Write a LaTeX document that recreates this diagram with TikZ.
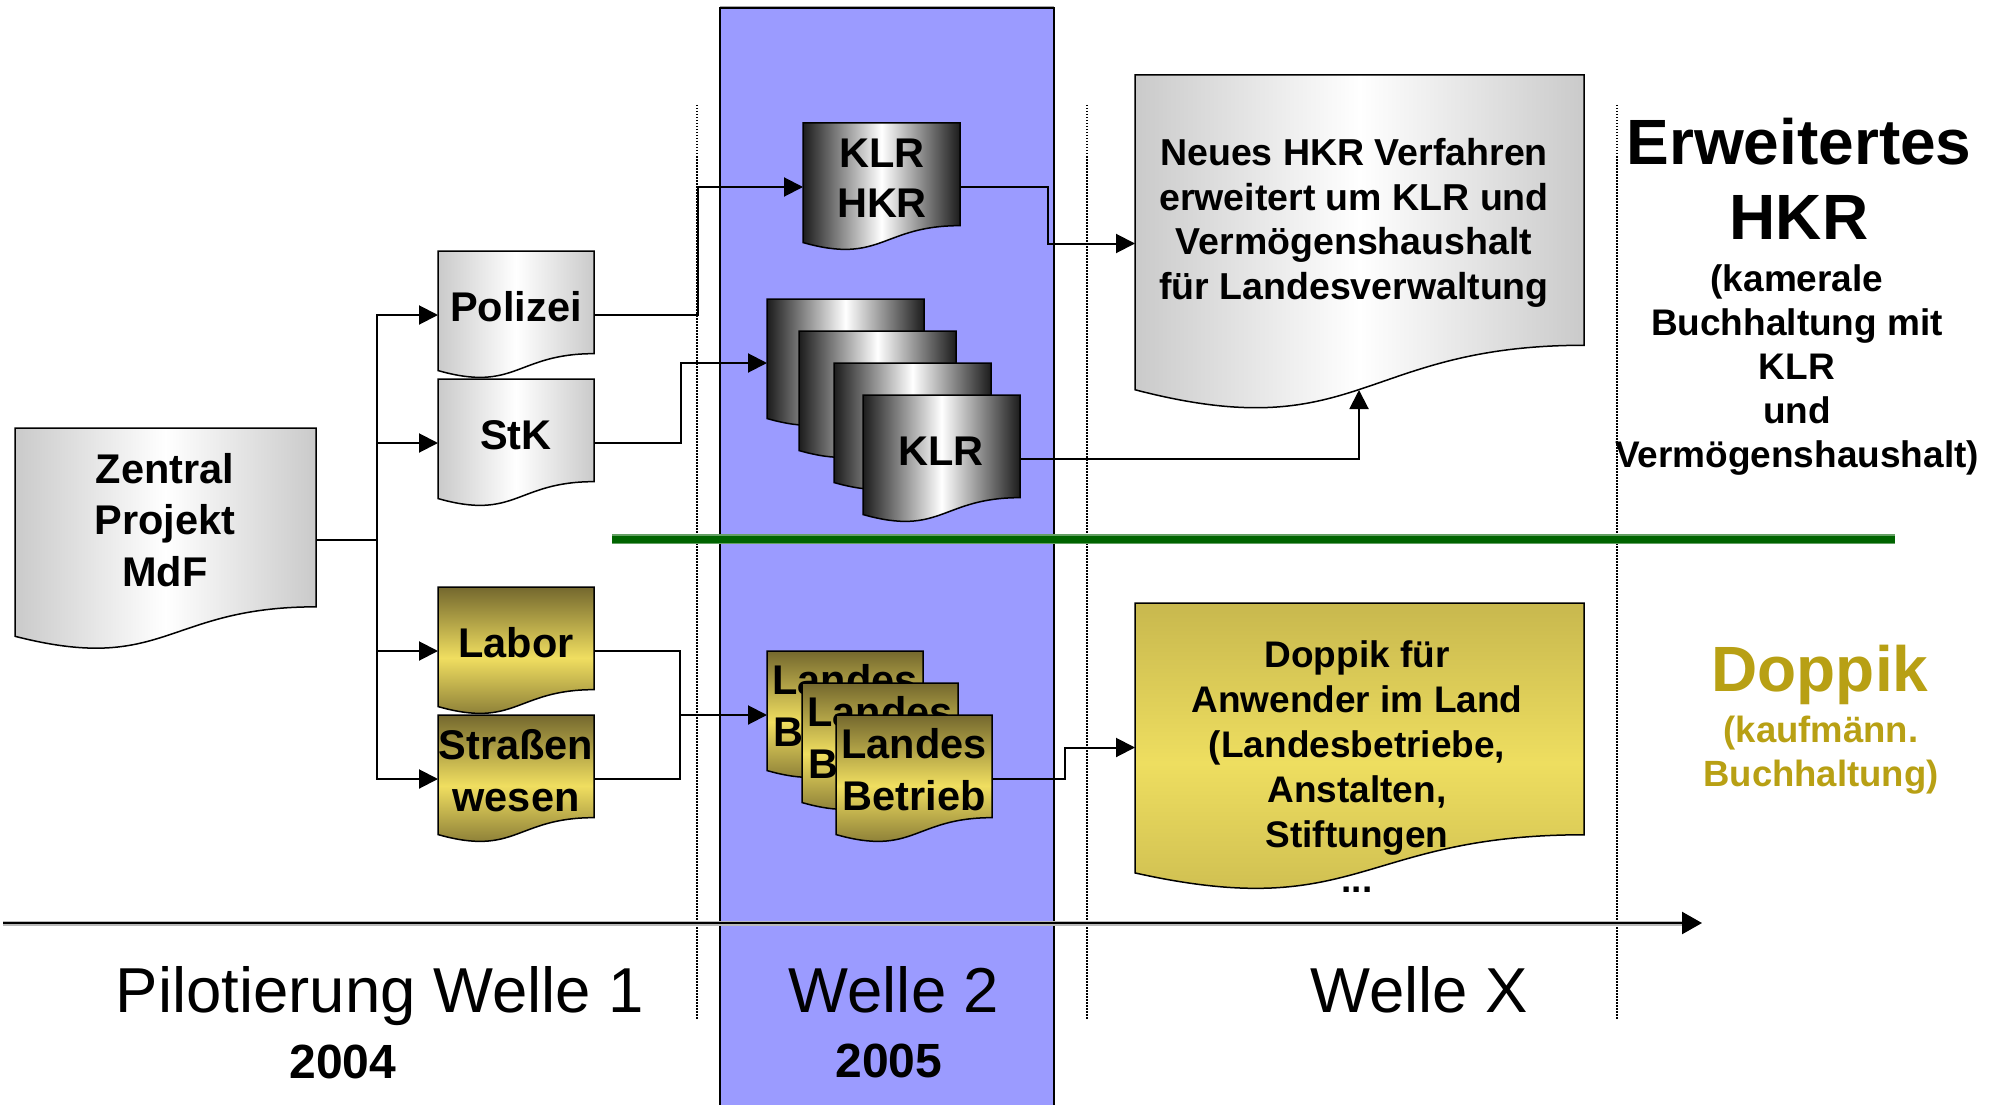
\documentclass[tikz,border=0pt]{standalone}
\usepackage{fontspec}
\setmainfont{Liberation Sans}
\usetikzlibrary{arrows.meta,calc}
\definecolor{bandblue}{RGB}{155,155,255}
\definecolor{dgreen}{RGB}{0,100,0}
\definecolor{lgreen}{RGB}{100,160,100}
\definecolor{goldtxt}{RGB}{184,160,20}
\definecolor{golddark}{RGB}{116,104,46}
\definecolor{goldlight}{RGB}{240,222,96}
\definecolor{goldA}{RGB}{200,184,78}
\definecolor{goldB}{RGB}{238,222,96}
\definecolor{docgray}{RGB}{202,202,202}
\definecolor{docdark}{RGB}{28,28,28}
\tikzset{
  graydoc/.style={left color=docgray, right color=docgray, middle color=white},
  darkdoc/.style={left color=docdark, right color=docdark, middle color=white},
  golddoc/.style={top color=golddark, bottom color=golddark, middle color=goldlight},
  doppdoc/.style={top color=goldA, bottom color=goldA, middle color=goldB},
  conn/.style={line width=2pt, line join=miter},
  arr/.style={conn, -{Triangle[length=19pt,width=19pt]}},
  boxtxt/.style={font=\fontsize{41.5}{51.5}\selectfont\bfseries, align=center, anchor=base, inner sep=0pt},
  midtxt/.style={font=\fontsize{37}{45}\selectfont\bfseries, align=center, anchor=base, inner sep=0pt},
  bigtxt/.style={font=\fontsize{64}{75}\selectfont\bfseries, align=center, anchor=base, inner sep=0pt},
  wavetxt/.style={font=\fontsize{63.5}{76}\selectfont, anchor=base, inner sep=0pt},
  yeartxt/.style={font=\fontsize{48}{56}\selectfont\bfseries, anchor=base, inner sep=0pt},
  vsep/.style={line width=1.2pt, dash pattern=on 1.5pt off 1.5pt},
}
% name, x, y, w, h, fill style
\newcommand\docbox[6]{%
  \path[#6, draw=black, line width=1.5pt] (#2,#3) -- ++(#4,0) -- ++(0,{0.802*#5})
    .. controls ({#2+0.5*#4},{#3+0.802*#5}) and ({#2+0.5*#4},{#3+1.1075*#5}) .. ({#2},{#3+0.934*#5}) -- cycle;
  \node[inner sep=0pt, outer sep=0pt, minimum width=#4, minimum height=#5, anchor=north west] (#1) at (#2,#3) {};
}
\begin{document}
\begin{tikzpicture}[x=1pt,y=-1pt]
\useasboundingbox (0,0) rectangle (1992,1105);
% band
\path[fill=bandblue, draw=black, line width=1.5pt] (720,8) rectangle (1054,1112);
\draw[gray!70, line width=1pt] (720,6.5) -- (1054,6.5);
% separators
\draw[vsep] (697,105) -- (697,1020);
\draw[vsep] (1087,105) -- (1087,1020);
\draw[vsep] (1617,105) -- (1617,1020);
% green divider
\coordinate (g0) at (612,539);
\coordinate (g1) at (1895,539);
\draw[lgreen, line width=9.5pt] (g0) -- (g1);
\draw[dgreen, line width=7pt] (g0) -- (g1);
% timeline
\coordinate (t0) at (3,923);
\coordinate (t1) at (1702,923);
\draw[gray!55, line width=5pt] (t0) -- (1688,923);
\draw[line width=2.5pt, -{Triangle[length=20pt,width=22pt]}] (t0) -- (t1);

% boxes
\docbox{zen}{15}{428}{301}{223}{graydoc}
\node[boxtxt] (zentxt) at (165,586) {Zentral\\Projekt\\MdF};
\docbox{pol}{438}{251}{156}{128}{graydoc}
\node[boxtxt] (poltxt) at (516,321) {Polizei};
\docbox{stk}{438}{379}{156}{128}{graydoc}
\node[boxtxt] (stktxt) at (516,449) {StK};
\docbox{lab}{438}{587}{156}{128}{golddoc}
\node[boxtxt] (labtxt) at (516,657) {Labor};
\docbox{str}{438}{715}{156}{128}{golddoc}
\node[boxtxt] (strtxt) at (516,811) {Straßen\\wesen};

\docbox{kh}{803}{123}{157}{128}{darkdoc}
\node[boxtxt, font=\fontsize{41.5}{50}\selectfont\bfseries] (khtxt) at (882,217) {KLR\\HKR};
\docbox{ka}{767}{299}{157}{128}{darkdoc}
\docbox{kb}{799}{331}{157}{128}{darkdoc}
\docbox{kc}{834}{363}{157}{128}{darkdoc}
\docbox{kd}{863}{395}{157}{128}{darkdoc}
\node[boxtxt] (kdtxt) at (941,465) {KLR};

\docbox{la}{767}{651}{156}{128}{golddoc}
\node[boxtxt, font=\fontsize{41.5}{52}\selectfont\bfseries] (latxt) at (845,746) {Landes\\Betrieb};
\docbox{lb}{802}{683}{156}{128}{golddoc}
\node[boxtxt, font=\fontsize{41.5}{52}\selectfont\bfseries] (lbtxt) at (880,778) {Landes\\Betrieb};
\docbox{lc}{836}{715}{156}{128}{golddoc}
\node[boxtxt, font=\fontsize{41.5}{52}\selectfont\bfseries] (lctxt) at (914,810) {Landes\\Betrieb};

\docbox{neu}{1135}{75}{449}{337}{graydoc}
\node[midtxt, font=\fontsize{37.5}{44.5}\selectfont\bfseries] (neutxt) at (1354,299)
  {Neues HKR Verfahren\\erweitert um KLR und\\Vermögenshaushalt\\für Landesverwaltung};
\docbox{dop}{1135}{603}{449}{289}{doppdoc}
\node[midtxt] (doptxt) at (1357,892)
  {Doppik für\\Anwender im Land\\(Landesbetriebe,\\Anstalten,\\Stiftungen\\...};

% connectors
\coordinate (trunk) at (377,539.5);
\draw[conn] (zen.east) -- (trunk);
\draw[arr] (trunk) |- (pol.west);
\draw[arr] (trunk) |- (stk.west);
\draw[arr] (trunk) |- (lab.west);
\draw[arr] (trunk) |- (str.west);
\draw[arr] (pol.east) -- (698,315) |- (kh.west);
\draw[arr] (stk.east) -- (681,443) |- (ka.west);
\draw[arr] (kh.east) -- (1048,187) |- (neu.west);
\coordinate (neubot) at (1359,390);
\draw[arr] (kd.east) -| (neubot);
\coordinate (join) at (680,715);
\draw[conn] (lab.east) -| (join) |- (str.east);
\draw[arr] (join) -- (la.west);
\draw[arr] (lc.east) -- (1065,779) |- (dop.west);

% right texts
\node[bigtxt] (erw) at (1799,239) {Erweitertes\\HKR};
\node[midtxt, font=\fontsize{37}{44}\selectfont\bfseries] (erwsub) at (1797,467)
  {(kamerale\\Buchhaltung mit\\KLR\\und\\Vermögenshaushalt)};
\node[bigtxt, text=goldtxt] (dopr) at (1820,691) {Doppik};
\node[midtxt, font=\fontsize{36.5}{44.5}\selectfont\bfseries, text=goldtxt] (doprsub) at (1821,786.5)
  {(kaufmänn.\\Buchhaltung)};

% wave labels
\node[wavetxt] (w1) at (380,1012) {Pilotierung Welle 1};
\node[wavetxt] (w2) at (894,1012) {Welle 2};
\node[wavetxt] (wx) at (1419,1012) {Welle X};
\node[yeartxt] (y1) at (343,1078) {2004};
\node[yeartxt] (y2) at (889,1077) {2005};
\end{tikzpicture}
\end{document}
